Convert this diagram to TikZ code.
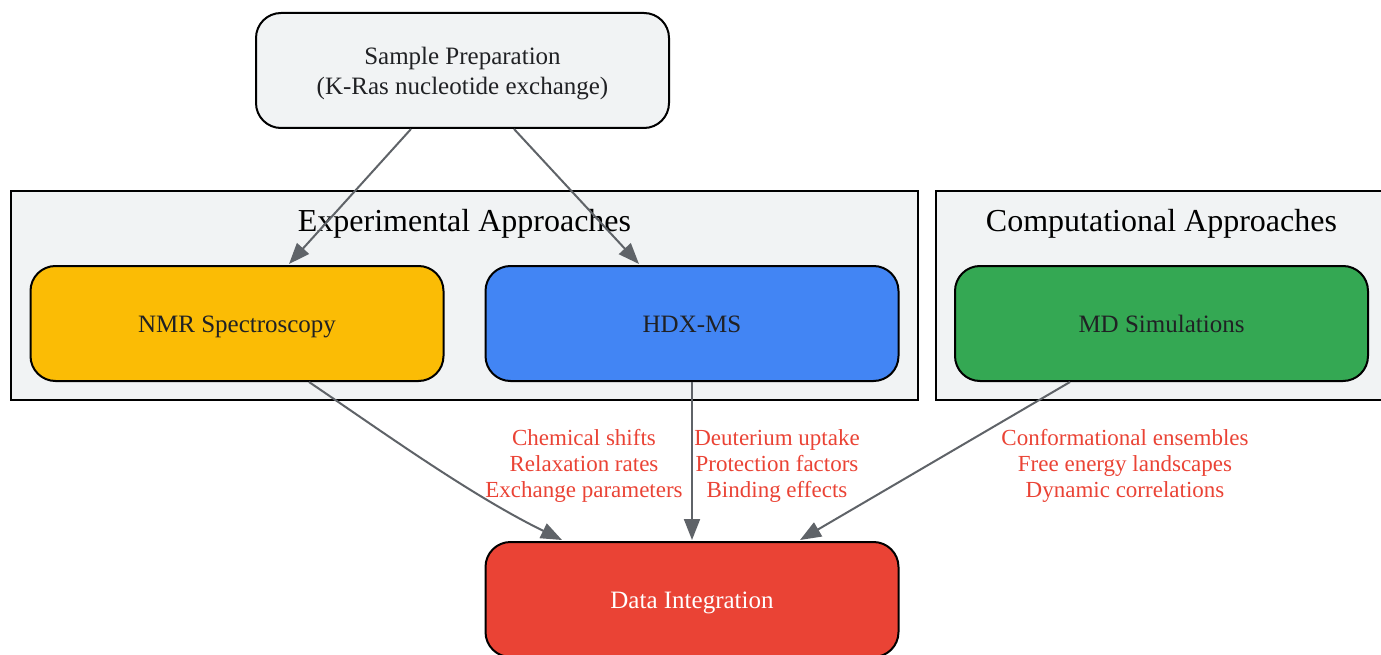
\documentclass[tikz,border=0pt]{standalone}
\usepackage{fontspec}
\setmainfont{Liberation Serif}
\usetikzlibrary{arrows.meta,calc}
\definecolor{lightbg}{HTML}{F1F3F4}
\definecolor{gyellow}{HTML}{FBBC05}
\definecolor{gblue}{HTML}{4285F4}
\definecolor{ggreen}{HTML}{34A853}
\definecolor{gred}{HTML}{EA4335}
\definecolor{edgegray}{HTML}{5F6368}
\definecolor{txtdark}{HTML}{202124}
\tikzset{
  procbox/.style={draw=black, line width=2pt, rounded corners=25pt,
    minimum width=413pt, minimum height=115pt, inner sep=0pt, align=center,
    text=txtdark, font=\fontsize{25}{30}\selectfont,
    text height=24pt, text depth=6pt},
  clusterbox/.style={draw=black, line width=2pt, fill=lightbg},
  clusterlabel/.style={font=\fontsize{32}{38}\selectfont, text=black, inner sep=0pt, anchor=base},
  flow/.style={draw=edgegray, line width=2pt, -{Triangle[length=21pt,width=16pt]}},
  edgelabel/.style={text=gred, align=center, inner sep=0pt,
    font=\fontsize{23}{26}\selectfont}
}
\begin{document}
\begin{tikzpicture}[x=1pt,y=-1pt]
\useasboundingbox (0,0) rectangle (1381,655);
% clusters
\draw[clusterbox] (11,191) rectangle (918,400);
\node[clusterlabel] (explab) at (464.5,231) {Experimental Approaches};
\draw[clusterbox] (936,191) rectangle (1390,400);
\node[clusterlabel] (complab) at (1161.5,231) {Computational Approaches};
% nodes
\node[procbox, fill=lightbg, text height=54pt, text depth=5pt] (sample) at (462.5,70.5) {Sample Preparation\\(K-Ras nucleotide exchange)};
\node[procbox, fill=gyellow] (nmr) at (237,323.5) {NMR Spectroscopy};
\node[procbox, fill=gblue] (hdx) at (692,323.5) {HDX-MS};
\node[procbox, fill=ggreen] (md) at (1161.5,323.5) {MD Simulations};
\node[procbox, fill=gred, text=white] (data) at (692,599.5) {Data Integration};
% edges
\draw[flow] ($(sample.south)+(-51.5,0)$) -- ($(nmr.north)+(52,-1)$);
\draw[flow] ($(sample.south)+(51.5,0)$) -- ($(hdx.north)+(-53,-1)$);
\draw[flow] ($(nmr.south)+(72,0)$) .. controls (380,430) and (470,495) .. ($(data.north)+(-130,-1)$);
\draw[flow] (hdx.south) -- ($(data.north)+(0,-1)$);
\draw[flow] ($(md.south)+(-91.5,0)$) -- ($(data.north)+(108,-1)$);
% edge labels
\node[edgelabel] (lab1) at (584,466) {Chemical shifts\\Relaxation rates\\Exchange parameters};
\node[edgelabel] (lab2) at (777,466) {Deuterium uptake\\Protection factors\\Binding effects};
\node[edgelabel] (lab3) at (1125,466) {Conformational ensembles\\Free energy landscapes\\Dynamic correlations};
\end{tikzpicture}
\end{document}
